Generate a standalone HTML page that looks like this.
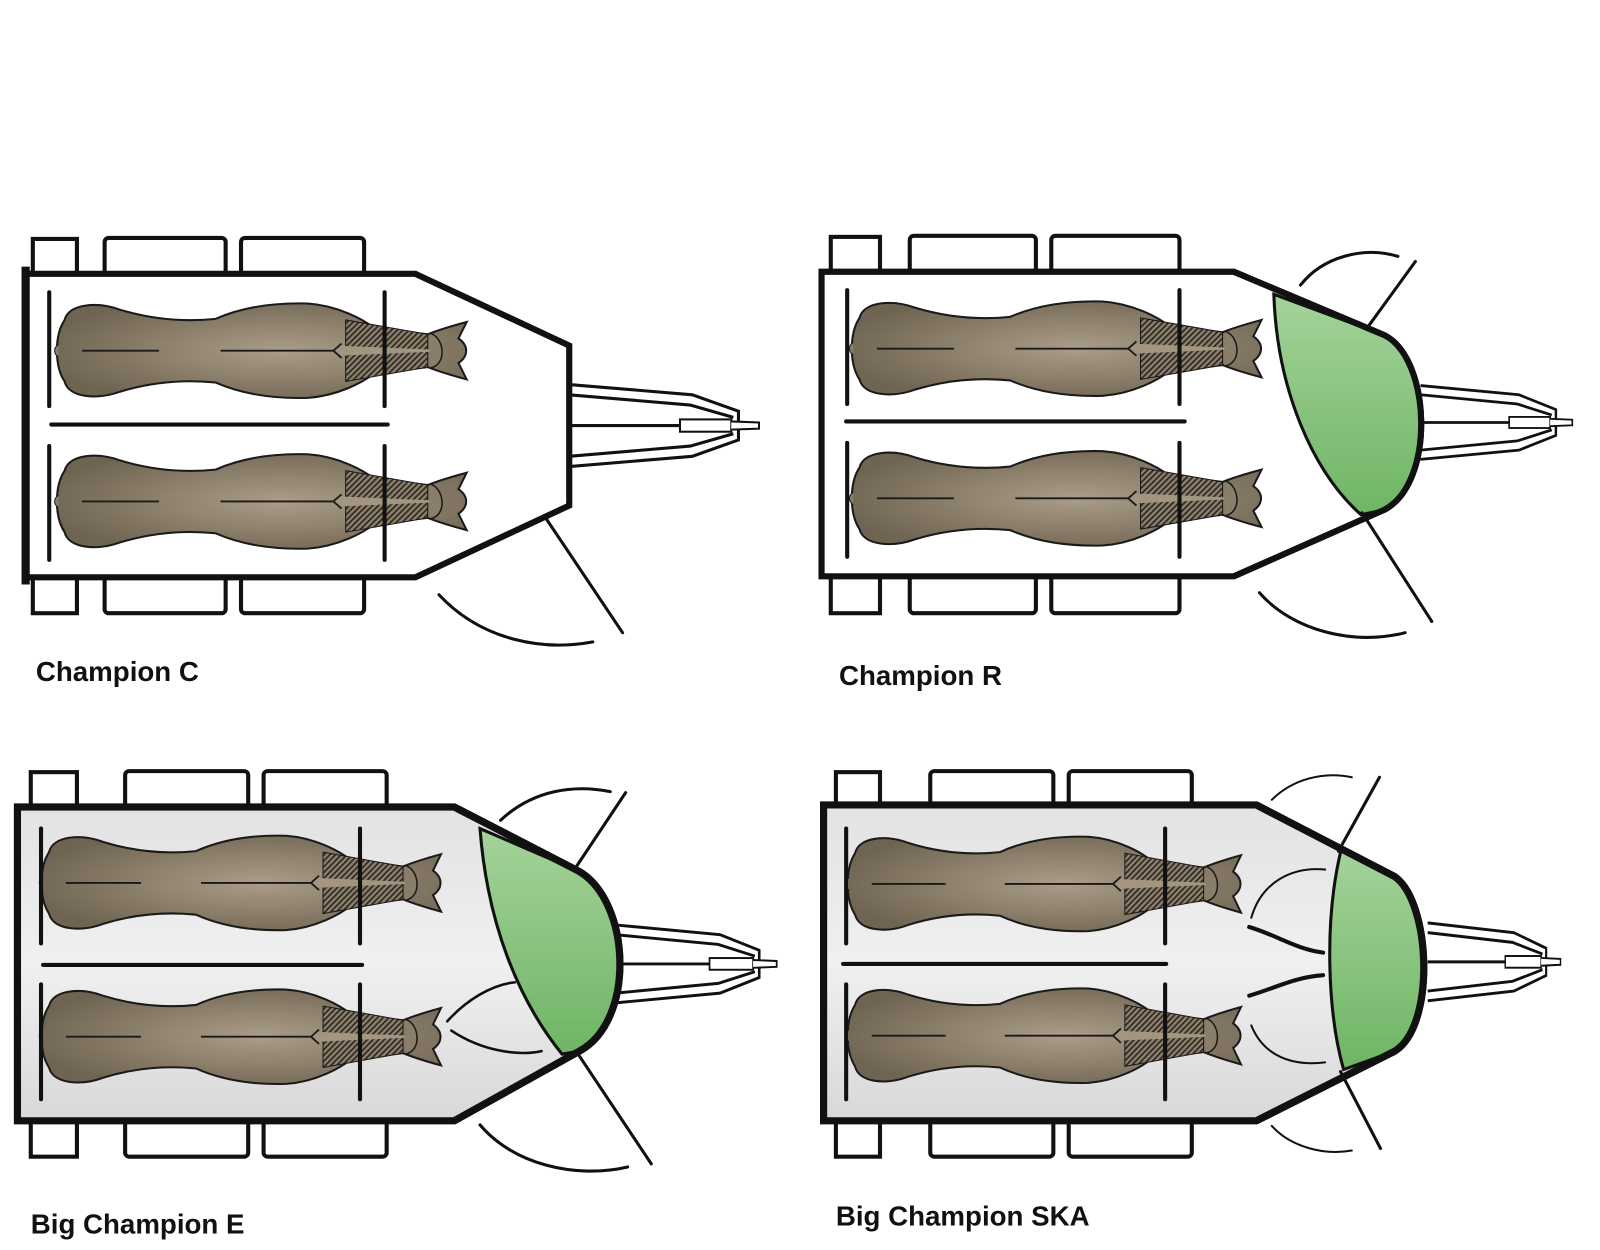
<!DOCTYPE html>
<html><head><meta charset="utf-8"><style>
html,body{margin:0;padding:0;background:#fff;width:1600px;height:1250px;overflow:hidden}
svg{display:block}
text{font-family:"Liberation Sans",Arial,sans-serif;font-weight:bold;font-size:27px;fill:#111}
</style></head><body>
<svg width="1600" height="1250" viewBox="0 0 1560 1219" preserveAspectRatio="none" xmlns="http://www.w3.org/2000/svg">
<defs>
<radialGradient id="hb" cx="0.55" cy="0.5" r="0.6">
<stop offset="0" stop-color="#ab9d87"/><stop offset="1" stop-color="#6f6452"/>
</radialGradient>
<linearGradient id="gr" x1="0" y1="0" x2="0" y2="1">
<stop offset="0" stop-color="#a4d39a"/><stop offset="1" stop-color="#6fb565"/>
</linearGradient>
<linearGradient id="gy" x1="0" y1="0" x2="0" y2="1">
<stop offset="0" stop-color="#e2e2e2"/><stop offset="0.5" stop-color="#f0f0f0"/><stop offset="1" stop-color="#d8d8d8"/>
</linearGradient>
<pattern id="hatch" width="4" height="4" patternUnits="userSpaceOnUse" patternTransform="rotate(45)">
<rect width="4" height="4" fill="#8c7f6b"/><rect width="1.6" height="4" fill="#2a2620"/>
</pattern>
<g id="horse">
<path d="M8,-30 C12,-46 40,-48 62,-40 C95,-30 125,-28 155,-31 C180,-42 210,-47 245,-46 C275,-44 300,-30 310,-22 L362,-16 C372,-20 385,-24 400,-28 L392,-12 C402,-5 402,5 392,12 L400,28 C385,24 372,20 362,16 L310,22 C300,30 275,44 245,46 C210,47 180,42 155,31 C125,28 95,30 62,40 C40,48 12,46 8,30 C-2,15 -2,-15 8,-30 Z" fill="url(#hb)" stroke="#1a1a1a" stroke-width="2"/>
<path d="M282,-30 L362,-16 L362,16 L282,30 Z" fill="url(#hatch)" stroke="#1a1a1a" stroke-width="1"/>
<path d="M272,-5 L366,-1 L366,1 L272,5 Z" fill="#a39580"/>
<path d="M364,-17 C378,-14 382,14 364,17" fill="#8a7d69" stroke="#1a1a1a" stroke-width="1.5"/>
<path d="M25,0 H100 M160,0 H270 M278,-7 L270,0 L278,7" stroke="#1a1a1a" stroke-width="1.8" fill="none"/>
<path d="M2,-6 C-3,-3 -3,3 2,6" fill="#8a7d69" stroke="#1a1a1a" stroke-width="1"/>
</g>
<g id="drawbar" fill="none" stroke="#111">
<path d="M0,-40 L120,-30 L165,-14 L165,14 L120,30 L0,40" stroke-width="3"/>
<path d="M0,-30 L118,-20 L160,-8 M0,30 L118,20 L160,8" stroke-width="3"/>
<path d="M0,0 H110" stroke-width="3"/>
<rect x="108" y="-6" width="50" height="12" fill="#fff" stroke-width="2"/>
<path d="M158,-4 L185,-3 L185,3 L158,4" fill="#fff" stroke-width="2"/>
</g>
</defs>

<!-- Champion C -->
<g stroke="#111" fill="#fff">
<rect x="32" y="233" width="43" height="35" stroke-width="4"/>
<rect x="102" y="232" width="118" height="36" rx="4" stroke-width="4"/>
<rect x="235" y="232" width="120" height="36" rx="4" stroke-width="4"/>
<rect x="32" y="562" width="43" height="36" stroke-width="4"/>
<rect x="102" y="562" width="118" height="36" rx="4" stroke-width="4"/>
<rect x="235" y="562" width="120" height="36" rx="4" stroke-width="4"/>
</g>
<g transform="translate(555,415)"><use href="#drawbar"/></g>
<path d="M25,267 L405,267 L555,337 L555,493 L405,563 L25,563 Z" fill="#fff" stroke="#111" stroke-width="6"/>
<path d="M25,260 V570" stroke="#111" stroke-width="8"/>
<use href="#horse" transform="translate(55,342)"/>
<use href="#horse" transform="translate(55,489)"/>
<g stroke="#111" stroke-width="4" stroke-linecap="round" fill="none">
<path d="M48,285 V396 M48,435 V546 M375,285 V396 M375,435 V546 M50,414 H378"/>
<path d="M532,505 L607,617" stroke-width="3"/>
<path d="M428,580 C470,625 530,635 578,626" stroke-width="3"/>
</g>
<text x="35" y="664">Champion C</text>

<!-- Champion R -->
<g stroke="#111" fill="#fff">
<rect x="810" y="231" width="48" height="36" stroke-width="4"/>
<rect x="887" y="230" width="123" height="37" rx="4" stroke-width="4"/>
<rect x="1025" y="230" width="125" height="37" rx="4" stroke-width="4"/>
<rect x="810" y="561" width="48" height="37" stroke-width="4"/>
<rect x="887" y="561" width="123" height="37" rx="4" stroke-width="4"/>
<rect x="1025" y="561" width="125" height="37" rx="4" stroke-width="4"/>
</g>
<g transform="translate(1385,412) scale(0.8,0.9)"><use href="#drawbar"/></g>
<path d="M801,265 L1203,265 L1350,327 C1395,350 1400,470 1350,497 L1203,562 L801,562 Z" fill="#fff" stroke="#111" stroke-width="6"/>
<path d="M1242,287 C1245,380 1280,460 1327,502 L1350,497 C1400,470 1395,350 1350,327 Z" fill="url(#gr)" stroke="#111" stroke-width="3"/>
<path d="M1203,265 L1350,327 C1395,350 1400,470 1350,497 L1203,562" fill="none" stroke="#111" stroke-width="6"/>
<use href="#horse" transform="translate(830,340)"/>
<use href="#horse" transform="translate(830,486)"/>
<g stroke="#111" stroke-width="4" stroke-linecap="round" fill="none">
<path d="M826,283 V394 M826,432 V543 M1150,283 V394 M1150,432 V543 M825,411 H1155"/>
<path d="M1335,317 L1380,255 M1328,500 L1396,606" stroke-width="3"/>
<path d="M1268,278 C1290,250 1330,240 1363,250 M1228,578 C1260,615 1320,630 1370,617" stroke-width="3"/>
</g>
<text x="818" y="668">Champion R</text>

<!-- Big Champion E -->
<g stroke="#111" fill="#fff">
<rect x="30" y="753" width="45" height="35" stroke-width="4"/>
<rect x="122" y="752" width="120" height="36" rx="4" stroke-width="4"/>
<rect x="257" y="752" width="120" height="36" rx="4" stroke-width="4"/>
<rect x="30" y="1092" width="45" height="36" stroke-width="4"/>
<rect x="122" y="1092" width="120" height="36" rx="4" stroke-width="4"/>
<rect x="257" y="1092" width="120" height="36" rx="4" stroke-width="4"/>
</g>
<g transform="translate(600,940) scale(0.85,0.95)"><use href="#drawbar"/></g>
<path d="M17,787 L443,787 L565,850 C615,880 620,995 565,1025 L443,1093 L17,1093 Z" fill="url(#gy)" stroke="#111" stroke-width="7"/>
<path d="M468,808 C475,900 505,975 548,1028 L565,1025 C620,995 615,880 565,850 Z" fill="url(#gr)" stroke="#111" stroke-width="3"/>
<path d="M443,787 L565,850 C615,880 620,995 565,1025 L443,1093" fill="none" stroke="#111" stroke-width="7"/>
<use href="#horse" transform="translate(40,861) scale(0.975,1)"/>
<use href="#horse" transform="translate(40,1011) scale(0.975,1)"/>
<g stroke="#111" stroke-width="4" stroke-linecap="round" fill="none">
<path d="M40,808 V920 M40,960 V1072 M351,808 V920 M351,960 V1072 M42,941 H353"/>
<path d="M562,845 L610,773 M565,1030 L635,1135" stroke-width="3"/>
<path d="M488,800 C520,770 560,765 595,772 M468,1097 C500,1135 560,1150 612,1138" stroke-width="3"/>
<path d="M436,996 C455,975 480,960 502,958 M440,1005 C470,1025 505,1030 528,1025" stroke-width="2.5"/>
</g>
<text x="30" y="1203">Big Champion E</text>

<!-- Big Champion SKA -->
<g stroke="#111" fill="#fff">
<rect x="815" y="753" width="43" height="33" stroke-width="4"/>
<rect x="907" y="752" width="120" height="34" rx="4" stroke-width="4"/>
<rect x="1042" y="752" width="120" height="34" rx="4" stroke-width="4"/>
<rect x="815" y="1092" width="43" height="36" stroke-width="4"/>
<rect x="907" y="1092" width="120" height="36" rx="4" stroke-width="4"/>
<rect x="1042" y="1092" width="120" height="36" rx="4" stroke-width="4"/>
</g>
<g transform="translate(1392,938) scale(0.7,0.95)"><use href="#drawbar"/></g>
<path d="M803,785 L1225,785 L1360,855 C1395,880 1400,1000 1360,1025 L1225,1093 L803,1093 Z" fill="url(#gy)" stroke="#111" stroke-width="7"/>
<path d="M1308,827 C1290,900 1295,990 1310,1043 L1360,1025 C1400,1000 1395,880 1360,855 Z" fill="url(#gr)" stroke="#111" stroke-width="3"/>
<path d="M1225,785 L1360,855 C1395,880 1400,1000 1360,1025 L1225,1093" fill="none" stroke="#111" stroke-width="7"/>
<use href="#horse" transform="translate(826,862) scale(0.96,1)"/>
<use href="#horse" transform="translate(826,1010) scale(0.96,1)"/>
<g stroke="#111" stroke-width="4" stroke-linecap="round" fill="none">
<path d="M825,808 V920 M825,960 V1072 M1136,808 V920 M1136,960 V1072 M822,940 H1137"/>
<path d="M1305,830 L1345,758 M1307,1045 L1346,1120" stroke-width="3"/>
<path d="M1240,780 C1260,760 1290,752 1318,758 M1240,1098 C1258,1118 1290,1127 1318,1122" stroke-width="2"/>
<path d="M1220,895 C1230,860 1260,845 1292,848 M1220,1000 C1232,1030 1260,1040 1292,1036" stroke-width="2"/>
<path d="M1218,904 C1245,912 1262,925 1290,929 M1218,971 C1245,963 1262,953 1290,951" stroke-width="4"/>
</g>
<text x="815" y="1195">Big Champion SKA</text>
</svg>
</body></html>
